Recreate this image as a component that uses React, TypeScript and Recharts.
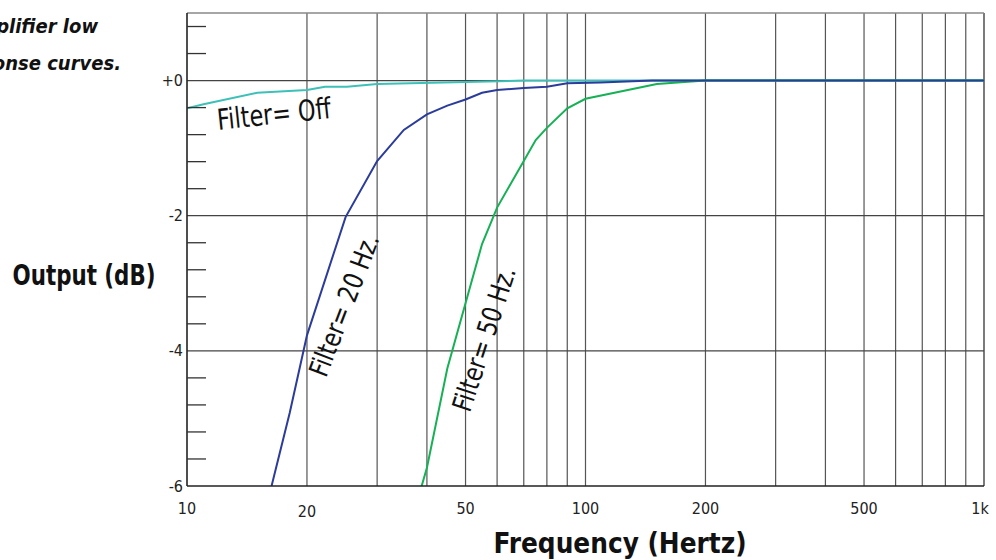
import React from "react";
import { LineChart, Line, XAxis, YAxis, ReferenceLine } from "recharts";

// Frequency (Hz) / output (dB)
const FILTER_OFF = [
  { f: 10, db: -0.41 },
  { f: 11, db: -0.35 },
  { f: 15, db: -0.18 },
  { f: 20, db: -0.14 },
  { f: 22.2, db: -0.09 },
  { f: 25.2, db: -0.09 },
  { f: 30, db: -0.05 },
  { f: 70, db: 0 },
  { f: 1000, db: 0 },
];

const FILTER_20 = [
  { f: 16.3, db: -6 },
  { f: 18.1, db: -4.92 },
  { f: 20, db: -3.77 },
  { f: 25, db: -2.02 },
  { f: 30, db: -1.19 },
  { f: 35, db: -0.73 },
  { f: 40, db: -0.5 },
  { f: 45, db: -0.37 },
  { f: 50, db: -0.28 },
  { f: 55, db: -0.18 },
  { f: 60, db: -0.14 },
  { f: 70, db: -0.11 },
  { f: 80, db: -0.09 },
  { f: 90, db: -0.04 },
  { f: 109, db: -0.03 },
  { f: 147, db: 0 },
  { f: 1000, db: 0 },
];

const FILTER_50 = [
  { f: 38.8, db: -6 },
  { f: 40, db: -5.73 },
  { f: 45, db: -4.26 },
  { f: 55, db: -2.42 },
  { f: 60, db: -1.88 },
  { f: 70, db: -1.19 },
  { f: 75, db: -0.88 },
  { f: 80, db: -0.7 },
  { f: 90, db: -0.41 },
  { f: 100, db: -0.27 },
  { f: 151, db: -0.05 },
  { f: 200, db: 0 },
  { f: 1000, db: 0 },
];

const X_TICKS = [10, 20, 50, 100, 200, 500, 1000];
const X_GRID = [20, 30, 40, 50, 60, 70, 80, 90, 100, 200, 300, 400, 500, 600, 700, 800, 900, 1000];
const Y_TICKS = [-6, -5.6, -5.2, -4.8, -4.4, -4, -3.6, -3.2, -2.8, -2.4, -2, -1.6, -1.2, -0.8, -0.4, 0, 0.4, 0.8];
const Y_GRID = [0, -2, -4];
const Y_LABELS: Record<string, string> = { "0": "+0", "-2": "-2", "-4": "-4", "-6": "-6" };

const FONT = '"Liberation Sans Narrow", "DejaVu Sans Condensed", "Roboto", sans-serif';

function YTick(props: any) {
  const { x, y, payload } = props;
  const key = String(Math.round(payload.value * 10) / 10);
  const label = Y_LABELS[key];
  if (label) {
    return (
      <text x={x - 4} y={y} textAnchor="end" dominantBaseline="central" fontSize={16} fill="#222" fontFamily={FONT}>
        {label}
      </text>
    );
  }
  return <line x1={x} x2={x + 19} y1={y} y2={y} stroke="#333" strokeWidth={1.3} />;
}

function XTick(props: any) {
  const { x, y, payload } = props;
  const v = payload.value;
  const label = v === 1000 ? "1k" : String(v);
  return (
    <text x={x} y={y + (v === 20 ? 25 : 22)} textAnchor="middle" dominantBaseline="central" fontSize={16} fill="#222" fontFamily={FONT}>
      {label}
    </text>
  );
}

export default function App() {
  return (
    <div style={{ position: "absolute", left: 0, top: 0, width: 996, height: 560, background: "#fff" }}>
      <LineChart width={996} height={560} margin={{ top: 13, right: 12, bottom: 0, left: 0 }}>
        <XAxis
          dataKey="f"
          type="number"
          scale="log"
          domain={[10, 1000]}
          ticks={X_TICKS}
          allowDataOverflow
          height={74}
          tickSize={0}
          tickMargin={0}
          tickLine={false}
          tick={<XTick />}
          axisLine={{ stroke: "#222", strokeWidth: 1.6 }}
        />
        <YAxis
          dataKey="db"
          type="number"
          domain={[-6, 1]}
          ticks={Y_TICKS}
          allowDataOverflow
          width={187}
          tickSize={0}
          tickMargin={0}
          tickLine={false}
          tick={<YTick />}
          interval={0}
          axisLine={{ stroke: "#222", strokeWidth: 1.6 }}
        />
        {X_GRID.map((v) => (
          <ReferenceLine key={"x" + v} x={v} stroke={v === 1000 ? "#222" : "#555"} strokeWidth={1.2} />
        ))}
        {Y_GRID.map((v) => (
          <ReferenceLine key={"y" + v} y={v} stroke="#444" strokeWidth={1.2} />
        ))}
        <ReferenceLine y={1} stroke="#888" strokeWidth={1.5} />
        <Line data={FILTER_OFF} dataKey="db" type="linear" stroke="#3cc0b8" strokeWidth={2} dot={false} isAnimationActive={false} />
        <Line data={FILTER_50} dataKey="db" type="linear" stroke="#16b055" strokeWidth={2} dot={false} isAnimationActive={false} />
        <Line data={FILTER_20} dataKey="db" type="linear" stroke="#2b3c9a" strokeWidth={2} dot={false} isAnimationActive={false} />
      </LineChart>
      <svg width={996} height={560} style={{ position: "absolute", left: 0, top: 0, pointerEvents: "none" }}>
        {/* caption runs off the left edge in the original */}
        <g fontFamily={FONT} fontWeight="bold" fontStyle="italic" fontSize={20} fill="#111">
          <text x={98} y={33} textAnchor="end">Amplifier low</text>
          <text x={121} y={70} textAnchor="end">frequency response curves.</text>
        </g>
        <text x={84} y={285} textAnchor="middle" fontFamily={FONT} fontWeight="bold" fontSize={28} fill="#111" textLength={143} lengthAdjust="spacingAndGlyphs">
          Output (dB)
        </text>
        <text x={620} y={553} textAnchor="middle" fontFamily={FONT} fontWeight="bold" fontSize={29} fill="#111" textLength={253} lengthAdjust="spacingAndGlyphs">
          Frequency (Hertz)
        </text>
        <g fontFamily={FONT} fill="#111">
          <text x={274} y={114} transform="rotate(-6 274 114)" textAnchor="middle" dominantBaseline="central" fontSize={29} textLength={114} lengthAdjust="spacingAndGlyphs">
            Filter= Off
          </text>
          <text x={344} y={305} transform="rotate(-69 344 305)" textAnchor="middle" dominantBaseline="central" fontSize={27} textLength={150} lengthAdjust="spacingAndGlyphs">
            Filter= 20 Hz.
          </text>
          <text x={484} y={339} transform="rotate(-72 484 339)" textAnchor="middle" dominantBaseline="central" fontSize={27} textLength={150} lengthAdjust="spacingAndGlyphs">
            Filter= 50 Hz.
          </text>
        </g>
      </svg>
    </div>
  );
}
